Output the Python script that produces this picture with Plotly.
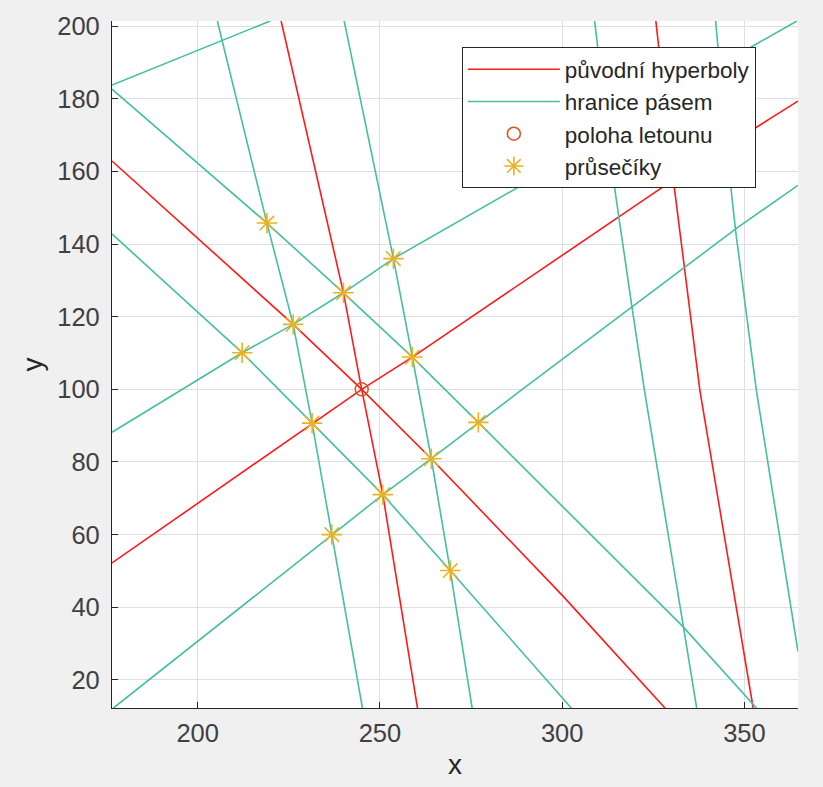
import plotly.graph_objects as go

# ---- data ----
red_A_x = [176.5, 226.2, 245.0, 264.1, 300.3, 328.2]
red_A_y = [162.9, 117.9, 100.0, 80.9, 43.0, 12.25]
red_B_x = [176.5, 231.4, 245.0, 258.9, 330.5, 357.9, 364.7]
red_B_y = [52.2, 90.7, 100.0, 108.9, 157.7, 175.1, 179.4]
red_C_x = [222.9, 240.0, 245.0, 250.8, 260.3]
red_C_y = [201.45, 126.6, 100.0, 71.0, 12.25]
red_D_x = [325.7, 330.5, 337.8, 352.4]
red_D_y = [201.45, 157.7, 99.6, 12.25]

g1_x = [176.5, 219.9]
g1_y = [183.8, 201.45]
gAp_x = [176.5, 219.0, 240.0, 258.9, 277.0, 333.2, 353.3]
gAp_y = [182.7, 145.8, 126.6, 108.9, 90.9, 34.6, 12.25]
gAm_x = [176.5, 212.2, 231.4, 250.8, 269.3, 302.5]
gAm_y = [142.8, 110.1, 90.7, 71.0, 50.1, 12.25]
gBp_x = [176.5, 212.2, 226.2, 240.0, 253.7, 292.0, 352.9, 364.4]
gBp_y = [88.2, 110.1, 117.9, 126.6, 136.0, 158.0, 194.9, 201.45]
gBm_x = [176.9, 236.8, 250.8, 264.1, 277.0, 288.5, 347.9, 364.7]
gBm_y = [12.25, 60.0, 71.0, 80.9, 90.9, 99.6, 144.4, 156.2]
gCm_x = [205.4, 219.0, 226.2, 231.4, 236.8, 245.2]
gCm_y = [201.45, 145.8, 117.9, 90.7, 60.0, 12.25]
gCp_x = [240.2, 253.7, 258.9, 264.1, 269.3, 275.3]
gCp_y = [201.45, 136.0, 108.9, 80.9, 50.1, 12.25]
gDm_x = [308.9, 314.0, 319.1, 322.6, 333.1, 336.9]
gDm_y = [201.45, 158.2, 123.0, 99.6, 35.6, 12.25]
gDp_x = [342.1, 346.0, 347.6, 353.3, 364.7]
gDp_y = [201.45, 158.2, 143.5, 99.6, 27.8]

plane_x = [245.0]
plane_y = [100.0]

star_x = [219.0, 253.7, 240.0, 226.2, 212.2, 258.9, 231.4, 250.8, 236.8, 277.0, 264.1, 269.3]
star_y = [145.8, 136.0, 126.6, 117.9, 110.1, 108.9, 90.7, 71.0, 60.0, 90.9, 80.9, 50.1]

x_range = [176.5, 364.7]
y_range = [12.25, 201.45]

RED = "#FF1A1A"
GREEN = "#45BEA2"
ORANGE = "#D95319"
YELLOW = "#EDB120"
FONT = "Liberation Sans, Arial, sans-serif"

fig = go.Figure()

reds = [(red_A_x, red_A_y), (red_B_x, red_B_y), (red_C_x, red_C_y), (red_D_x, red_D_y)]
for i, (xs, ys) in enumerate(reds):
    fig.add_trace(go.Scatter(x=xs, y=ys, mode="lines", line=dict(color=RED, width=1.6),
                             name="původní hyperboly",
                             showlegend=(i == 0), hoverinfo="skip"))

greens = [(g1_x, g1_y), (gAp_x, gAp_y), (gAm_x, gAm_y), (gBp_x, gBp_y), (gBm_x, gBm_y),
          (gCm_x, gCm_y), (gCp_x, gCp_y), (gDm_x, gDm_y), (gDp_x, gDp_y)]
for i, (xs, ys) in enumerate(greens):
    fig.add_trace(go.Scatter(x=xs, y=ys, mode="lines", line=dict(color=GREEN, width=1.6),
                             name="hranice pásem",
                             showlegend=(i == 0), hoverinfo="skip"))

fig.add_trace(go.Scatter(x=plane_x, y=plane_y, mode="markers", name="poloha letounu",
                         marker=dict(symbol="circle-open", size=13, color=ORANGE,
                                     line=dict(color=ORANGE, width=1.5))))
fig.add_trace(go.Scatter(x=star_x, y=star_y, mode="markers", name="průsečíky",
                         marker=dict(symbol="asterisk-open", size=17, color=YELLOW,
                                     line=dict(color=YELLOW, width=1.6))))

axis_common = dict(
    showgrid=True, gridcolor="#DFDFDF", gridwidth=1,
    showline=True, linecolor="#262626", linewidth=1.2, mirror=False,
    ticks="inside", ticklen=6, tickcolor="#262626", tickwidth=1,
    zeroline=False,
    tickfont=dict(family=FONT, size=25.5, color="#404040"),
)

fig.update_layout(
    width=823, height=787,
    margin=dict(l=112, r=25, t=19, b=79),
    paper_bgcolor="#F0F0F0", plot_bgcolor="white",
    font=dict(family=FONT, color="#262626"),
    xaxis=dict(range=x_range, tickvals=[200, 250, 300, 350], ticklabelstandoff=2,
               title=dict(text="x", font=dict(family=FONT, size=28, color="#262626"), standoff=8),
               **axis_common),
    yaxis=dict(range=y_range, tickvals=[20, 40, 60, 80, 100, 120, 140, 160, 180, 200],
               ticklabelstandoff=6,
               title=dict(text="y", font=dict(family=FONT, size=28, color="#262626"), standoff=6),
               **axis_common),
    legend=dict(x=0.51, y=0.962, xanchor="left", yanchor="top",
                bgcolor="white", bordercolor="#262626", borderwidth=1,
                font=dict(family=FONT, size=22.5, color="#262626"),
                itemwidth=92, tracegroupgap=0),
    showlegend=True,
)

fig.write_html("out.html")
